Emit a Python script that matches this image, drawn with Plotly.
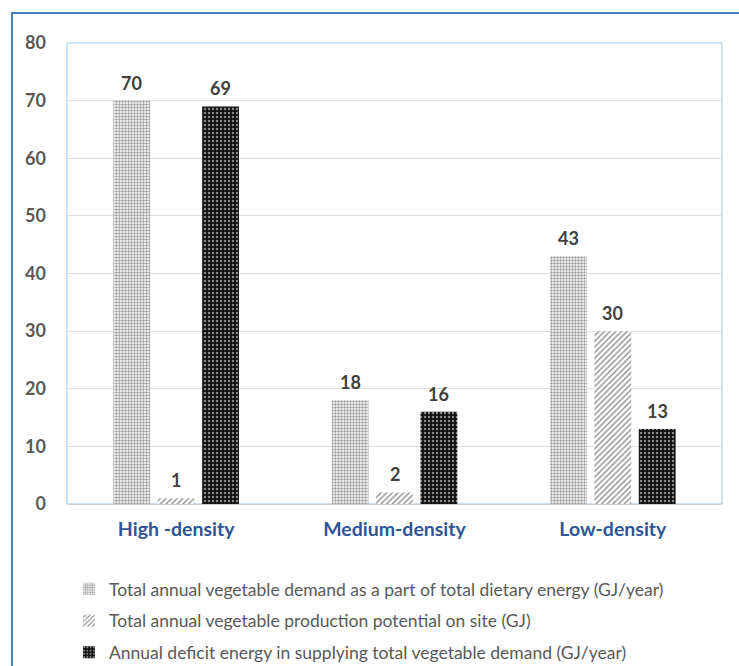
import plotly.graph_objects as go

categories = ["High -density", "Medium-density", "Low-density"]
series_names = [
    "Total annual vegetable demand as a part of total dietary energy (GJ/year)",
    "Total annual vegetable production potential on site (GJ)",
    "Annual deficit energy in supplying total vegetable demand (GJ/year)",
]
demand = [70, 18, 43]
production = [1, 2, 30]
deficit = [69, 16, 13]
y_ticks = [0, 10, 20, 30, 40, 50, 60, 70, 80]

values = [demand, production, deficit]
patterns = [
    dict(shape=".", fgcolor="#3a3a3a", bgcolor="#ffffff", size=3, solidity=0.5),
    dict(shape="/", fgcolor="#1a1a1a", bgcolor="#ffffff", size=4, solidity=0.35),
    dict(shape=".", fgcolor="#ffffff", bgcolor="#111111", size=4, solidity=0.3),
]
fills = ["#ffffff", "#ffffff", "#111111"]

BARGAP = 0.39
BARGROUPGAP = 0.17
PLOT_W = 739 - 67 - 17

fig = go.Figure()
for i, (name, vals) in enumerate(zip(series_names, values)):
    fig.add_trace(go.Bar(
        x=categories, y=vals, name=name,
        marker=dict(color=fills[i], pattern=patterns[i], line=dict(width=0)),
        legendgroup=f"g{i}",
    ))

# value labels above each bar, shifted to the bar's slot inside its group
slot = PLOT_W / len(categories) * (1 - BARGAP) / len(values)
for i, vals in enumerate(values):
    for cat, v in zip(categories, vals):
        fig.add_annotation(
            x=cat, y=v, text=str(v), showarrow=False,
            xshift=(i - 1) * slot, yshift=5, yanchor="bottom",
            font=dict(family="Lato", size=18, color="#404040", weight="bold"),
        )

# plot-area frame and outer chart frame
fig.add_shape(type="rect", xref="paper", yref="paper", x0=0, x1=1, y0=0, y1=1,
              line=dict(color="#9dc3e6", width=1), layer="below")
fig.add_shape(type="rect", xref="paper", yref="paper", x0=-0.084, x1=1.2, y0=-0.5, y1=1.065,
              line=dict(color="#4a7ebb", width=2), layer="below")

fig.update_layout(
    width=739, height=666,
    margin=dict(l=67, r=17, t=43, b=162, autoexpand=False),
    paper_bgcolor="white", plot_bgcolor="white",
    barmode="group", bargap=BARGAP, bargroupgap=BARGROUPGAP,
    showlegend=True,
    legend=dict(x=0.003, y=-0.145, xanchor="left", yanchor="top",
                orientation="v", tracegroupgap=6,
                font=dict(family="Lato", size=17.5, color="#595959")),
    font=dict(family="Lato"),
)
fig.update_xaxes(showgrid=False, showline=True, linecolor="#d0d0d0", linewidth=1,
                 ticks="", ticklabelstandoff=8,
                 tickfont=dict(family="Lato", size=19.5, color="#2f5597", weight="bold"))
fig.update_yaxes(range=[0, 80], tickvals=y_ticks, showgrid=True, gridcolor="#dcdcdc",
                 zeroline=False, showline=False, ticks="", ticklabelstandoff=20,
                 tickfont=dict(family="Lato", size=18, color="#595959", weight="bold"))

fig.write_html("out.html")
